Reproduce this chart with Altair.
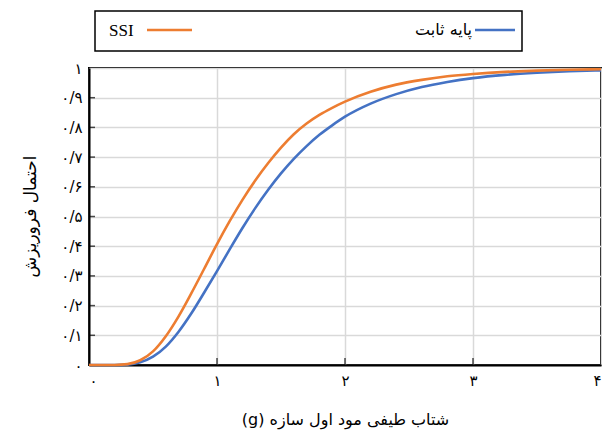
import json
import altair as alt
import pandas as pd

# ---- data ----
x_vals = [0, 0.1, 0.2, 0.3, 0.4, 0.5, 0.6, 0.7, 0.8, 0.9, 1.0, 1.1, 1.2, 1.3,
          1.4, 1.5, 1.6, 1.7, 1.8, 1.9, 2.0, 2.2, 2.4, 2.6, 2.8, 3.0, 3.25,
          3.5, 3.75, 4.0]
fixed_base = [0, 0, 0.0001, 0.0014, 0.009, 0.028, 0.062, 0.112, 0.174, 0.244,
              0.316, 0.390, 0.462, 0.529, 0.590, 0.645, 0.694, 0.737, 0.775,
              0.807, 0.836, 0.880, 0.912, 0.936, 0.953, 0.966, 0.977, 0.984,
              0.989, 0.992]
ssi = [0, 0, 0.0002, 0.003, 0.016, 0.046, 0.097, 0.164, 0.242, 0.324, 0.407,
       0.485, 0.557, 0.622, 0.680, 0.732, 0.777, 0.813, 0.842, 0.866, 0.887,
       0.920, 0.944, 0.960, 0.972, 0.980, 0.987, 0.991, 0.994, 0.996]

series_names = ["پایه ثابت", "SSI"]
series_colors = ["#4472C4", "#ED7D31"]

x_tick_vals = [0, 1, 2, 3, 4]
x_tick_labels = ["۰", "۱", "۲", "۳", "۴"]
y_tick_vals = [0, 0.1, 0.2, 0.3, 0.4, 0.5, 0.6, 0.7, 0.8, 0.9, 1.0]
y_tick_labels = ["۰", "۰/۱", "۰/۲", "۰/۳", "۰/۴", "۰/۵", "۰/۶", "۰/۷", "۰/۸", "۰/۹", "۱"]

x_title = "(g) شتاب طیفی مود اول سازه"
y_title = "احتمال فروریزش"

# ---- tables ----
df = pd.concat([
    pd.DataFrame({"x": x_vals, "y": fixed_base, "series": series_names[0], "k": 0}),
    pd.DataFrame({"x": x_vals, "y": ssi, "series": series_names[1], "k": 1}),
])
ytick_df = pd.DataFrame({"x": [0] * (len(y_tick_vals) - 2), "y": y_tick_vals[1:-1]})
xtick_df = pd.DataFrame({"x": x_tick_vals[1:-1], "y": [0] * (len(x_tick_vals) - 2)})
one = pd.DataFrame({"a": [0]})

PFONT = "DejaVu Sans"
LFONT = "Liberation Serif"

x_enc = alt.X("x:Q",
              scale=alt.Scale(domain=[0, 4], nice=False, zero=False),
              axis=alt.Axis(values=x_tick_vals,
                            labelExpr=json.dumps(x_tick_labels, ensure_ascii=False) + "[round(datum.value)]",
                            title=x_title, ticks=False, labelPadding=8,
                            labelFont=PFONT, labelFontSize=15, labelColor="black",
                            titleFont=PFONT, titleFontSize=16, titleFontWeight="normal",
                            titleColor="black", titleY=54, titleBaseline="middle",
                            domainColor="black", domainWidth=2,
                            grid=True, gridColor="#d9d9d9", gridWidth=1.5))
y_enc = alt.Y("y:Q",
              scale=alt.Scale(domain=[0, 1], nice=False),
              axis=alt.Axis(values=y_tick_vals,
                            labelExpr=json.dumps(y_tick_labels, ensure_ascii=False) + "[round(datum.value*10)]",
                            title=y_title, ticks=False, labelPadding=7,
                            labelFont=PFONT, labelFontSize=15, labelColor="black",
                            titleFont=PFONT, titleFontSize=17, titleFontWeight="normal",
                            titleColor="black", titleX=-59, titleY=148, titleAngle=-90,
                            titleBaseline="middle", titleAlign="center",
                            domainColor="black", domainWidth=2,
                            grid=True, gridColor="#d9d9d9", gridWidth=1.5))

lines = alt.Chart(df).mark_line(strokeWidth=2.6, interpolate="monotone").encode(
    x=x_enc, y=y_enc,
    color=alt.Color("series:N", scale=alt.Scale(domain=series_names, range=series_colors), legend=None),
    order=alt.Order("k:Q"),
)

yticks = alt.Chart(ytick_df).mark_tick(orient="horizontal", size=12, thickness=1.5,
                                       color="black", clip=True).encode(x=x_enc, y=y_enc)
xticks = alt.Chart(xtick_df).mark_tick(orient="vertical", size=14, thickness=1.5,
                                       color="black", clip=True).encode(x=x_enc, y=y_enc)

# ---- legend box (positions relative to the plot area) ----
box = alt.Chart(one).mark_rect(fill="white", stroke="black", strokeWidth=1.5).encode(
    x=alt.value(6), x2=alt.value(433), y=alt.value(-57), y2=alt.value(-17))
leg_ssi_line = alt.Chart(one).mark_rule(color=series_colors[1], strokeWidth=2.6).encode(
    x=alt.value(58), x2=alt.value(103), y=alt.value(-38))
leg_ssi_text = alt.Chart(one).mark_text(align="left", baseline="middle", font=LFONT,
                                        fontSize=17, color="black").encode(
    x=alt.value(20), y=alt.value(-37), text=alt.value(series_names[1]))
leg_fix_line = alt.Chart(one).mark_rule(color=series_colors[0], strokeWidth=2.6).encode(
    x=alt.value(386), x2=alt.value(426), y=alt.value(-38))
leg_fix_text = alt.Chart(one).mark_text(align="right", baseline="middle", font=PFONT,
                                        fontSize=16, color="black").encode(
    x=alt.value(383), y=alt.value(-38), text=alt.value(series_names[0]))

chart = alt.layer(lines, yticks, xticks, box, leg_ssi_line, leg_ssi_text,
                  leg_fix_line, leg_fix_text).properties(
    width=512, height=297,
    autosize=alt.AutoSizeParams(type="none"),
    padding={"left": 81, "top": 60, "right": 1, "bottom": 70},
).configure_view(stroke="black", strokeWidth=2)

chart.save("out.html", embed_options={"renderer": "svg", "actions": False})
